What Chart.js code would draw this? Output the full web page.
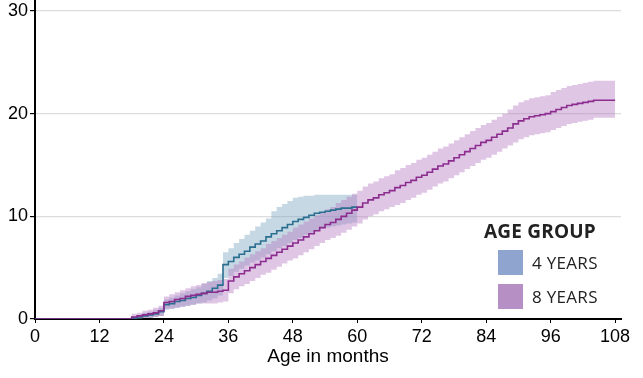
<!DOCTYPE html>
<html>
<head>
<meta charset="utf-8">
<script src="https://cdn.jsdelivr.net/npm/chart.js@4/dist/chart.umd.min.js"></script>
<style>
  html, body { margin: 0; padding: 0; background: #fff; }
  #wrap { position: relative; width: 643px; height: 378px; }
  #legend { position: absolute; left: 0; top: 0; width: 643px; height: 378px; pointer-events: none; font-family: "Open Sans", Lato, sans-serif; color: #222; }
  #legend .title { position: absolute; left: 484px; top: 219px; font-weight: 700; font-size: 19px; letter-spacing: 0.2px; line-height: 24px; }
  #legend .sw { position: absolute; left: 498px; width: 25px; height: 25px; }
  #legend .lab { position: absolute; left: 532px; font-size: 17px; line-height: 24px; letter-spacing: 0.3px; }
</style>
</head>
<body>
<div id="wrap">
  <canvas id="c" width="643" height="378"></canvas>
  <div id="legend">
    <div class="title">AGE GROUP</div>
    <div class="sw" style="top:250px;background:#8fa5cf"></div>
    <div class="lab" style="top:251px">4 YEARS</div>
    <div class="sw" style="top:284px;background:#b68fc4"></div>
    <div class="lab" style="top:285px">8 YEARS</div>
  </div>
</div>
<script>
// ---- data ----
const xTickValues = [0, 12, 24, 36, 48, 60, 72, 84, 96, 108];
const yTickValues = [0, 10, 20, 30];

// 8 YEARS group: months 0..108
const years8Line = [
  0,0,0,0,0,0,0,0,0,0,0,0,0,0,0,0,0,0,
  0.2,0.3,0.4,0.5,0.6,0.8,
  1.6,1.7,1.9,2.0,2.2,2.3,2.4,2.5,2.6,2.6,2.7,2.8,
  3.7,4.1,4.4,4.7,5.0,5.3,5.6,5.9,6.2,6.5,6.8,7.1,
  7.4,7.7,8.0,8.3,8.6,8.9,9.2,9.4,9.7,10.0,10.3,10.6,
  10.9,11.3,11.6,11.8,12.1,12.3,12.5,12.8,13.0,13.3,13.5,13.8,
  14.0,14.3,14.6,14.9,15.1,15.4,15.7,16.0,16.3,16.6,16.9,17.2,
  17.4,17.7,18.0,18.3,18.6,19.0,19.3,19.5,19.7,19.8,19.9,20.0,
  20.2,20.4,20.6,20.8,20.9,21.0,21.1,21.2,21.3,21.3,21.3,21.3,
  21.3
];
const years8Upper = [
  0,0,0,0,0,0,0,0,0,0,0,0,0,0,0,0,0,0,
  0.5,0.6,0.8,0.9,1.1,1.3,
  2.2,2.4,2.6,2.8,3.0,3.2,3.3,3.5,3.6,3.7,3.8,3.9,
  4.9,5.3,5.6,6.0,6.3,6.6,6.9,7.3,7.6,7.9,8.2,8.5,
  8.9,9.2,9.5,9.8,10.1,10.4,10.7,10.9,11.3,11.6,11.9,12.2,
  12.5,12.9,13.2,13.4,13.7,13.9,14.1,14.5,14.7,15.0,15.2,15.5,
  15.7,16.0,16.3,16.6,16.8,17.1,17.4,17.7,18.0,18.3,18.6,18.9,
  19.1,19.4,19.7,20.0,20.4,20.8,21.1,21.3,21.5,21.6,21.7,21.8,
  22.1,22.3,22.5,22.7,22.8,22.9,23.0,23.1,23.2,23.2,23.2,23.2,
  23.2
];
const years8Lower = [
  0,0,0,0,0,0,0,0,0,0,0,0,0,0,0,0,0,0,
  0.0,0.1,0.1,0.1,0.2,0.3,
  1.0,1.0,1.1,1.2,1.3,1.4,1.5,1.5,1.5,1.5,1.6,1.7,
  2.5,2.9,3.2,3.4,3.7,4.0,4.3,4.5,4.8,5.1,5.4,5.7,
  5.9,6.2,6.5,6.8,7.1,7.4,7.7,7.9,8.1,8.4,8.7,9.0,
  9.3,9.7,10.0,10.2,10.5,10.7,10.9,11.1,11.3,11.6,11.8,12.1,
  12.3,12.6,12.9,13.2,13.4,13.7,14.0,14.3,14.6,14.9,15.2,15.5,
  15.7,16.0,16.3,16.6,16.9,17.2,17.5,17.7,17.9,18.0,18.1,18.2,
  18.4,18.6,18.8,19.0,19.1,19.2,19.3,19.4,19.6,19.6,19.6,19.6,
  19.6
];

// 4 YEARS group: months 0..60
const years4Line = [
  0,0,0,0,0,0,0,0,0,0,0,0,0,0,0,0,0,0,
  0.1,0.2,0.3,0.4,0.5,0.7,
  1.4,1.5,1.7,1.8,2.0,2.1,2.3,2.5,2.7,3.0,3.3,5.3,
  5.6,6.0,6.3,6.6,7.0,7.3,7.6,8.0,8.3,8.6,8.9,9.2,
  9.5,9.7,9.9,10.1,10.3,10.4,10.5,10.6,10.7,10.8,10.8,10.9,
  10.9
];
const years4Upper = [
  0,0,0,0,0,0,0,0,0,0,0,0,0,0,0,0,0,0,
  0.3,0.4,0.6,0.7,0.9,1.1,
  1.9,2.1,2.3,2.5,2.7,2.9,3.1,3.4,3.7,4.0,4.4,6.5,
  6.9,7.4,7.8,8.2,8.6,9.0,9.4,9.8,10.5,10.9,11.2,11.5,
  11.8,11.9,12.0,12.0,12.1,12.1,12.1,12.1,12.1,12.1,12.1,12.1,
  12.1
];
const years4Lower = [
  0,0,0,0,0,0,0,0,0,0,0,0,0,0,0,0,0,0,
  0.0,0.0,0.1,0.1,0.2,0.3,
  0.9,1.0,1.1,1.2,1.3,1.4,1.5,1.6,1.8,2.0,2.3,4.0,
  4.2,4.6,4.9,5.2,5.5,5.7,6.0,6.3,6.6,6.9,7.1,7.4,
  7.7,7.9,8.2,8.4,8.6,8.8,8.9,9.0,9.1,9.2,9.3,9.4,
  9.4
];

const pts = arr => arr.map((v, i) => ({ x: i, y: v }));

const bandDs = (label, arr, color, fill) => ({
  label, data: pts(arr), stepped: true, borderWidth: 0, pointRadius: 0,
  borderColor: 'rgba(0,0,0,0)', backgroundColor: color, fill: fill
});

new Chart(document.getElementById('c'), {
  type: 'line',
  data: {
    datasets: [
      { label: '8 YEARS', data: pts(years8Line), stepped: true, borderColor: '#8b2c8e', borderWidth: 1.6, pointRadius: 0, fill: false },
      { label: '4 YEARS', data: pts(years4Line), stepped: true, borderColor: '#2a6e90', borderWidth: 1.6, pointRadius: 0, fill: false },
      bandDs('8 upper', years8Upper, 'rgba(180,118,192,0.42)', '+1'),
      bandDs('8 lower', years8Lower, 'rgba(0,0,0,0)', false),
      bandDs('4 upper', years4Upper, 'rgba(120,163,190,0.42)', '+1'),
      bandDs('4 lower', years4Lower, 'rgba(0,0,0,0)', false)
    ]
  },
  options: {
    responsive: false,
    animation: false,
    layout: { padding: { left: 0, top: 0, right: 22, bottom: 0 } },
    plugins: { legend: { display: false }, tooltip: { enabled: false } },
    scales: {
      x: {
        type: 'linear', min: 0, max: 109.1,
        afterBuildTicks: s => { s.ticks = xTickValues.map(v => ({ value: v })); },
        afterFit: s => { s.height = 59; s.paddingLeft = 0; s.paddingRight = 0; },
        ticks: { color: '#000', font: { family: '"Liberation Sans", Arial, sans-serif', size: 18 }, padding: 3, maxRotation: 0, autoSkip: false },
        grid: { drawOnChartArea: false, tickLength: 4, tickColor: '#000', tickWidth: 1 },
        border: { color: '#000', width: 2 },
        title: { display: true, text: 'Age in months', color: '#000', font: { family: '"Liberation Sans", Arial, sans-serif', size: 19 }, padding: { top: 0, bottom: 10 } }
      },
      y: {
        min: 0, max: 31.07,
        afterBuildTicks: s => { s.ticks = yTickValues.map(v => ({ value: v })); },
        afterFit: s => { s.width = 35; s.paddingTop = 0; s.paddingBottom = 0; },
        ticks: { color: '#000', font: { family: '"Liberation Sans", Arial, sans-serif', size: 18 }, padding: 2 },
        grid: {
          color: c => (c.tick && c.tick.value === 0) ? 'rgba(0,0,0,0)' : '#dcdcdc',
          lineWidth: 1.2, tickLength: 5, tickColor: '#000'
        },
        border: { color: '#000', width: 2 }
      }
    }
  }
});
</script>
</body>
</html>
